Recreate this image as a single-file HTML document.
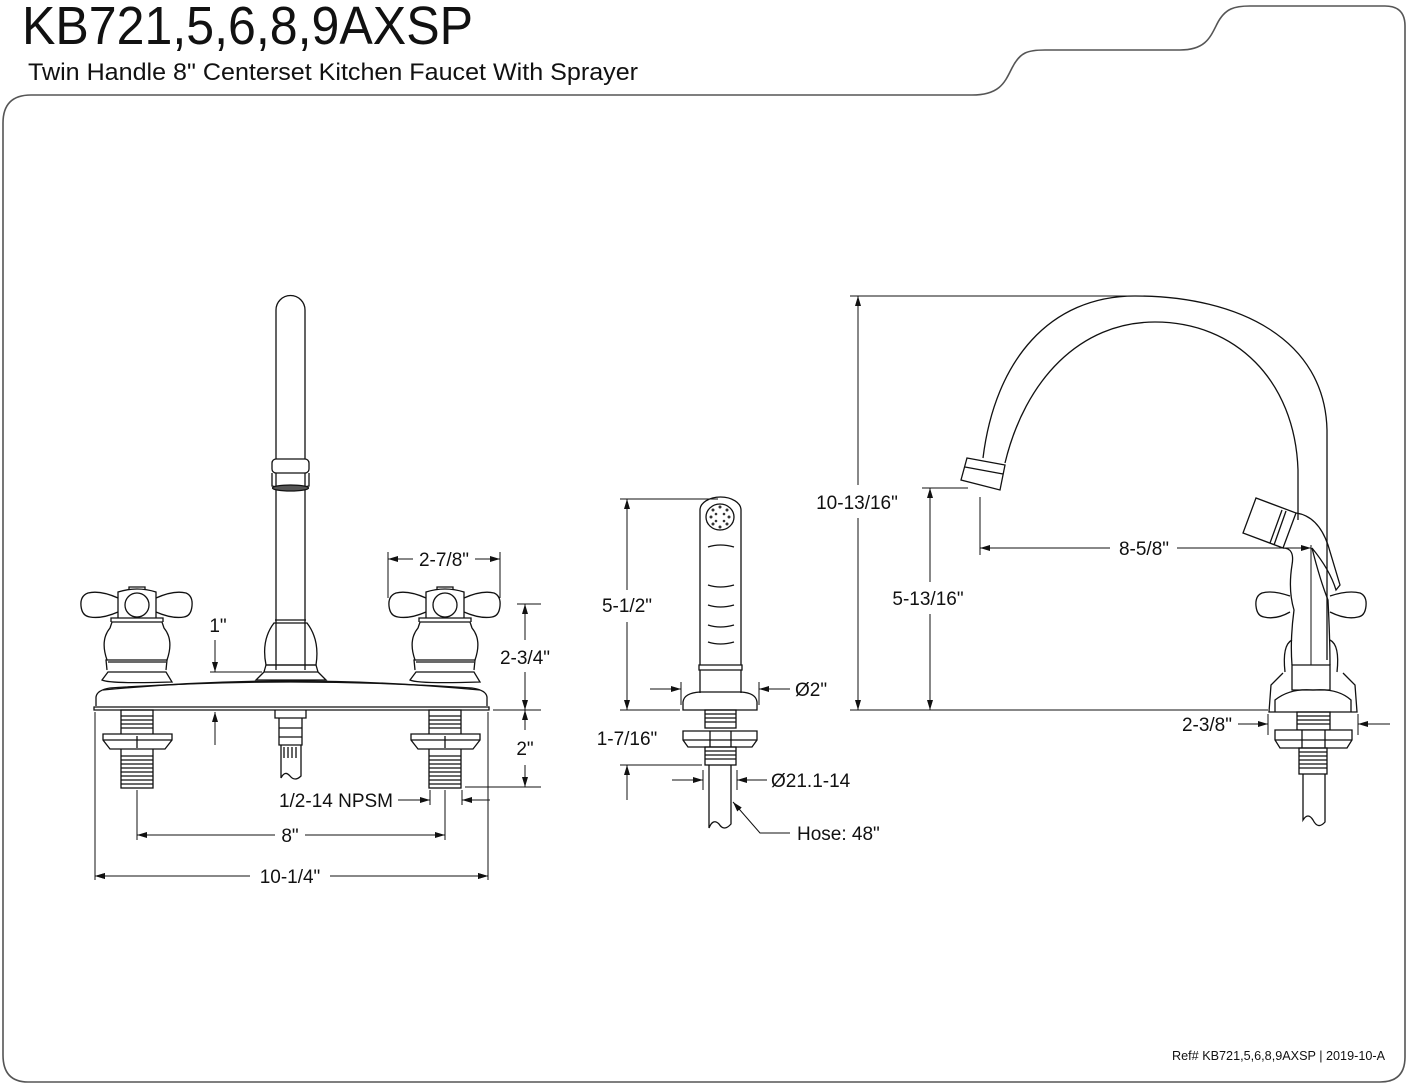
<!DOCTYPE html>
<html><head><meta charset="utf-8"><style>
html,body{margin:0;padding:0;background:#fff;}
svg{display:block;}
text{font-family:"Liberation Sans",Arial,sans-serif;fill:#111;}
</style></head><body>
<svg width="1410" height="1084" viewBox="0 0 1410 1084" xmlns="http://www.w3.org/2000/svg">
<defs>
<marker id="a" viewBox="0 0 10 6" refX="10" refY="3" markerWidth="10" markerHeight="6" orient="auto-start-reverse" markerUnits="userSpaceOnUse"><path d="M0,0 L10,3 L0,6 z" fill="#111"/></marker>
</defs>
<!-- frame -->
<path d="M3,1055 L3,123 Q3,95 31,95 L972,95 C1000,95 1005,82 1012,68 C1020,52 1028,50 1045,50 L1180,50 C1205,50 1210,38 1217,24 C1225,8 1235,6 1250,6 L1385,6 Q1405,6 1405,26 L1405,1057 Q1405,1082 1380,1082 L28,1082 Q3,1082 3,1055 Z" fill="none" stroke="#555" stroke-width="1.6"/>
<text x="22" y="44" font-size="54" textLength="451" lengthAdjust="spacingAndGlyphs">KB721,5,6,8,9AXSP</text>
<text x="28" y="80" font-size="24" textLength="610" lengthAdjust="spacingAndGlyphs">Twin Handle 8" Centerset Kitchen Faucet With Sprayer</text>
<text x="1172" y="1060" font-size="13" textLength="213" lengthAdjust="spacingAndGlyphs" fill="#333">Ref# KB721,5,6,8,9AXSP | 2019-10-A</text>

<g fill="none" stroke="#111" stroke-width="1.3">
<!-- LEFT FAUCET -->
<path d="M276,670 L276,310 A14.5,14.5 0 0 1 305,310 L305,670"/>
<rect x="272" y="459" width="37" height="14" rx="4" fill="#fff"/>
<path d="M272,473 L272,486 Q290,490 309,486 L309,473"/>
<ellipse cx="290.5" cy="488" rx="18" ry="3" fill="#555"/>
<path d="M275,620 L306,620 M274,623 L307,623 Q320,640 316,665 L266,665 Q261,640 274,623 Z"/>
<path d="M266,665 L316,665 L318,672 L264,672 Z M264,672 L256,680 L326,680 L318,672"/>
<!-- deck plate -->
<path d="M103,690 Q290,672 480,690"/>
<path d="M96,706 L96,697 Q97,690 110,688 Q290,676 472,688 Q486,690 487,697 L487,706"/>
<path d="M94,707 L489,707 L489,710 L94,710 Z"/>
<!-- handle L -->
<g id="h">
<path d="M107,670 L106,660 L167,660 L166,670 M108,662 L166,662"/>
<path d="M107,660 Q100,640 110,628 L112,622 L162,622 L164,628 Q174,640 167,660"/>
<path d="M111,622 L111,618 L163,618 L163,622"/>
<path d="M118,618 L118,592 Q137,586 156,592 L156,618" />
<circle cx="137" cy="605" r="12"/>
<path d="M118,598 Q100,590 88,593 Q80,596 81,606 Q82,616 90,617 Q102,619 118,612"/>
<path d="M156,598 Q174,590 186,593 Q193,596 192,606 Q191,616 184,617 Q172,619 156,612"/>
<path d="M129,590 L129,587 L145,587 L145,590"/>
<path d="M108,672 L102,680 Q110,684 172,682 L166,672 Z"/>
</g>
<use href="#h" transform="translate(308,0)"/>
<!-- shanks -->
<g id="s">
<rect x="121" y="710" width="32" height="78"/>
<path d="M121,716 H153 M121,720 H153 M121,724 H153 M121,728 H153 M121,756 H153 M121,760 H153 M121,764 H153 M121,768 H153 M121,772 H153 M121,776 H153 M121,780 H153 M121,784 H153"/>
<path d="M103,734 L172,734 L172,740 L165,749 L110,749 L103,740 Z M103,740 H172 M137,736 V748" fill="#fff"/>
</g>
<use href="#s" transform="translate(308,0)"/>
<!-- center fitting -->
<path d="M275,710 L275,718 L306,718 L306,710"/>
<path d="M279,718 L279,745 L302,745 L302,718 M279,728 H302 M279,737 H302"/>
<path d="M281,745 L281,768 M301,745 L301,768 M284,747 V758 M288,747 V758 M292,747 V758 M296,747 V758"/>
<path d="M281,768 L281,778 Q285,770 290,776 Q295,782 301,776 L301,768"/>
</g>
<!-- left dims -->
<g fill="none" stroke="#111" stroke-width="1">
<path d="M95,712 V880 M488,712 V880 M137,790 V840 M445,790 V840 M462,790 V805 M430,790 V805"/>
<path d="M388,552 V598 M500,552 V598"/>
<path d="M517,604 H541 M493,710 H541 M465,787 H541"/>
<path d="M210,672 H262"/>
<path d="M95,876 H250 M330,876 H488" marker-start="url(#a)" marker-end="url(#a)"/>
<path d="M250,876 H95" marker-end="url(#a)"/><path d="M330,876 H488" marker-end="url(#a)"/>
<path d="M275,835 H137" marker-end="url(#a)"/><path d="M305,835 H445" marker-end="url(#a)"/>
<path d="M398,800 H430" marker-end="url(#a)"/><path d="M490,800 H462" marker-end="url(#a)"/>
<path d="M413,559 H388" marker-end="url(#a)"/><path d="M475,559 H500" marker-end="url(#a)"/>
<path d="M525,640 V604" marker-end="url(#a)"/><path d="M525,672 V710" marker-end="url(#a)"/>
<path d="M525,730 V710" marker-end="url(#a)"/><path d="M525,765 V787" marker-end="url(#a)"/>
<path d="M215,640 V672" marker-end="url(#a)"/><path d="M215,745 V712" marker-end="url(#a)"/>
</g>
<g font-size="19">
<text x="290" y="883" text-anchor="middle">10-1/4"</text>
<text x="290" y="842" text-anchor="middle">8"</text>
<text x="393" y="807" text-anchor="end">1/2-14 NPSM</text>
<text x="444" y="566" text-anchor="middle">2-7/8"</text>
<text x="525" y="664" text-anchor="middle">2-3/4"</text>
<text x="525" y="755" text-anchor="middle">2"</text>
<text x="218" y="632" text-anchor="middle">1"</text>
</g>

<!-- SPRAYER -->
<g fill="none" stroke="#111" stroke-width="1.3">
<path d="M700,665 L700,510 A20.5,13 0 0 1 741,510 L741,665"/>
<ellipse cx="720" cy="517" rx="14" ry="13"/>
<g fill="#333" stroke="none">
<circle cx="713" cy="510" r="1.5"/><circle cx="720" cy="507" r="1.5"/><circle cx="727" cy="510" r="1.5"/><circle cx="711" cy="517" r="1.5"/><circle cx="729" cy="517" r="1.5"/><circle cx="713" cy="524" r="1.5"/><circle cx="720" cy="527" r="1.5"/><circle cx="727" cy="524" r="1.5"/><circle cx="716" cy="514" r="1.3"/><circle cx="724" cy="514" r="1.3"/><circle cx="716" cy="521" r="1.3"/><circle cx="724" cy="521" r="1.3"/>
</g>
<path d="M708,547 Q720,543 734,547 M708,585 Q720,589 734,585 M708,605 Q720,609 734,605 M708,625 Q720,629 734,625 M708,642 Q720,646 734,642"/>
<path d="M699,665 H742 V670 H699 Z M700,670 V693 M741,670 V693"/>
<path d="M683,710 L683,702 Q684,693 700,692 L741,692 Q756,693 757,702 L757,710 Z"/>
<rect x="705" y="710" width="31" height="18"/>
<path d="M705,714 H736 M705,718 H736 M705,722 H736"/>
<path d="M683,731 L757,731 L757,740 L752,747 L688,747 L683,740 Z M683,740 H757 M710,731 V747 M731,731 V747" fill="#fff"/>
<rect x="705" y="747" width="31" height="18"/>
<path d="M705,751 H736 M705,755 H736 M705,759 H736"/>
<path d="M709,765 L709,828 Q713,818 719,824 Q724,832 731,824 L731,765"/>
</g>
<g fill="none" stroke="#111" stroke-width="1">
<path d="M620,499 H718 M620,710 H680 M620,765 H702"/>
<path d="M681,682 V705 M759,682 V705 M703,770 V790 M737,770 V790"/>
<path d="M627,590 V499" marker-end="url(#a)"/><path d="M627,622 V710" marker-end="url(#a)"/>
<path d="M627,800 V765" marker-end="url(#a)"/>
<path d="M650,689 H681" marker-end="url(#a)"/><path d="M790,689 H759" marker-end="url(#a)"/>
<path d="M672,780 H703" marker-end="url(#a)"/><path d="M767,780 H737" marker-end="url(#a)"/>
<path d="M790,833 H760 L733,802" marker-end="url(#a)"/>
</g>
<g font-size="19">
<text x="627" y="612" text-anchor="middle">5-1/2"</text>
<text x="627" y="745" text-anchor="middle">1-7/16"</text>
<text x="795" y="696">Ø2"</text>
<text x="771" y="787">Ø21.1-14</text>
<text x="797" y="840">Hose: 48"</text>
</g>

<!-- RIGHT FAUCET -->
<g fill="none" stroke="#111" stroke-width="1.3">
<path d="M1327,660 L1327,430 C1325,340 1240,296 1135,296 C1050,296 995,360 983,458"/>
<path d="M1298,520 L1298,470 C1295,380 1235,322 1155,322 C1080,322 1025,380 1005,463"/>
<path d="M967,458 L1005,465 L1000,490 L961,480 Z M965,467 L1003,474"/>
<!-- sprayer head -->
<path d="M1256,498 L1243,533 L1283,548 L1296,513 Z M1282,510 L1270,543 M1286,511 L1274,545"/>
<path d="M1296,513 Q1318,516 1328,545 L1340,585 L1336,590 Q1330,570 1312,548"/>
<path d="M1283,548 Q1295,548 1292,565 Q1288,590 1294,610 Q1290,640 1292,665"/>
<path d="M1312,548 Q1320,580 1328,600 Q1330,640 1330,665"/>
<!-- handles -->
<path d="M1290,596 Q1272,590 1262,593 Q1255,596 1256,606 Q1257,616 1264,617 Q1276,620 1290,612"/>
<path d="M1330,596 Q1348,590 1360,593 Q1367,596 1366,606 Q1365,616 1358,617 Q1346,620 1330,612"/>
<path d="M1292,640 Q1282,645 1285,672 M1330,640 Q1340,645 1337,672"/>
<!-- base -->
<path d="M1292,665 H1330 V690 H1292 Z"/>
<path d="M1283,673 L1271,685 L1269,712 L1357,712 L1355,685 L1343,673"/>
<path d="M1275,712 L1275,700 Q1290,688 1313,690 Q1338,688 1351,700 L1351,712"/>
<rect x="1297" y="712" width="33" height="18"/>
<path d="M1297,716 H1330 M1297,720 H1330 M1297,724 H1330"/>
<path d="M1275,730 L1352,730 L1352,740 L1347,748 L1280,748 L1275,740 Z M1275,740 H1352 M1302,730 V748 M1325,730 V748" fill="#fff"/>
<rect x="1299" y="748" width="28" height="26"/>
<path d="M1299,752 H1327 M1299,756 H1327 M1299,760 H1327 M1299,764 H1327 M1299,768 H1327"/>
<path d="M1303,774 L1303,820 Q1308,812 1313,820 Q1318,830 1325,822 L1325,774"/>
</g>
<g fill="none" stroke="#111" stroke-width="1">
<path d="M850,296 H1135 M850,710 H1268 M922,488 H968"/>
<path d="M980,497 V555 M1311,545 V665 M1268,714 V735 M1358,714 V735"/>
<path d="M858,485 V296" marker-end="url(#a)"/><path d="M858,518 V710" marker-end="url(#a)"/>
<path d="M930,582 V488" marker-end="url(#a)"/><path d="M930,614 V710" marker-end="url(#a)"/>
<path d="M1110,548 H980" marker-end="url(#a)"/><path d="M1177,548 H1311" marker-end="url(#a)"/>
<path d="M1238,724 H1268" marker-end="url(#a)"/><path d="M1390,724 H1358" marker-end="url(#a)"/>
</g>
<g font-size="19">
<text x="857" y="509" text-anchor="middle">10-13/16"</text>
<text x="928" y="605" text-anchor="middle">5-13/16"</text>
<text x="1144" y="555" text-anchor="middle">8-5/8"</text>
<text x="1232" y="731" text-anchor="end">2-3/8"</text>
</g>
</svg>
</body></html>
